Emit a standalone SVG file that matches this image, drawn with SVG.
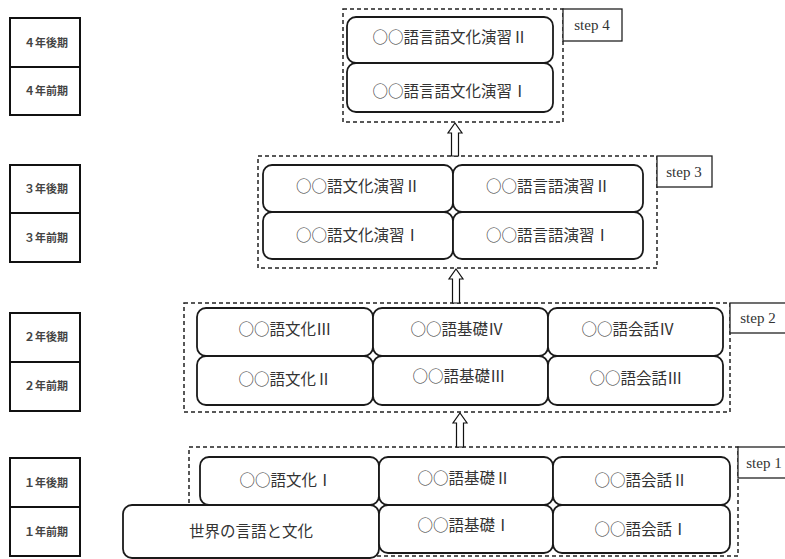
<svg xmlns="http://www.w3.org/2000/svg" width="785" height="559" viewBox="0 0 785 559">
<style>
.yr{fill:#fff;stroke:#111;stroke-width:2}
.yt{font-family:"Noto Sans CJK JP","Noto Sans",sans-serif;font-size:11px;font-weight:bold;fill:#444;text-anchor:middle}
.dash{fill:none;stroke:#222;stroke-width:1.5;stroke-dasharray:4 3}
.lbl{fill:#fff;stroke:#222;stroke-width:1.3}
.lt{font-family:"Liberation Serif",serif;font-size:15px;fill:#333;text-anchor:middle}
.nd{fill:#fff;stroke:#1a1a1a;stroke-width:1.8}
.nt{font-family:"Noto Sans CJK JP","Noto Sans",sans-serif;font-size:15.5px;fill:#333;text-anchor:middle}
.ar{fill:#fff;stroke:#111;stroke-width:1.2;stroke-linejoin:miter}
</style>

<g id="years">
  <g id="year4">
    <rect class="yr" x="10" y="18" width="70" height="97"/>
    <line x1="10" y1="67" x2="80" y2="67" stroke="#111" stroke-width="2"/>
    <text class="yt" x="46" y="47">４年後期</text>
    <text class="yt" x="46" y="95">４年前期</text>
  </g>
  <g id="year3">
    <rect class="yr" x="10" y="165" width="70" height="97"/>
    <line x1="10" y1="213" x2="80" y2="213" stroke="#111" stroke-width="2"/>
    <text class="yt" x="46" y="193">３年後期</text>
    <text class="yt" x="46" y="242">３年前期</text>
  </g>
  <g id="year2">
    <rect class="yr" x="10" y="313" width="70" height="98"/>
    <line x1="10" y1="362" x2="80" y2="362" stroke="#111" stroke-width="2"/>
    <text class="yt" x="46" y="341">２年後期</text>
    <text class="yt" x="46" y="390">２年前期</text>
  </g>
  <g id="year1">
    <rect class="yr" x="10" y="458" width="70" height="98"/>
    <line x1="10" y1="507" x2="80" y2="507" stroke="#111" stroke-width="2"/>
    <text class="yt" x="46" y="487">１年後期</text>
    <text class="yt" x="46" y="536">１年前期</text>
  </g>
</g>

<g id="step4">
  <rect class="dash" x="343" y="9" width="220" height="113"/>
  <rect class="lbl" x="563" y="9" width="59" height="32"/>
  <text class="lt" x="592" y="30">step 4</text>
  <g id="s4-2"><rect class="nd" x="347" y="17" width="206" height="46" rx="9"/><text class="nt" x="450" y="43">○○語言語文化演習Ⅱ</text></g>
  <g id="s4-1"><rect class="nd" x="347" y="63" width="206" height="49" rx="9"/><text class="nt" x="450" y="97">○○語言語文化演習Ⅰ</text></g>
</g>

<g id="step3">
  <rect class="dash" x="258" y="156" width="399" height="112"/>
  <rect class="lbl" x="657" y="156" width="55" height="31"/>
  <text class="lt" x="684" y="177">step 3</text>
  <g id="s3-c2"><rect class="nd" x="263" y="165" width="190" height="47" rx="9"/><text class="nt" x="358" y="192">○○語文化演習Ⅱ</text></g>
  <g id="s3-l2"><rect class="nd" x="453" y="165" width="190" height="47" rx="9"/><text class="nt" x="548" y="192">○○語言語演習Ⅱ</text></g>
  <g id="s3-c1"><rect class="nd" x="263" y="212" width="190" height="47" rx="9"/><text class="nt" x="358" y="240.5">○○語文化演習Ⅰ</text></g>
  <g id="s3-l1"><rect class="nd" x="453" y="212" width="190" height="47" rx="9"/><text class="nt" x="548" y="240.5">○○語言語演習Ⅰ</text></g>
</g>

<g id="step2">
  <rect class="dash" x="184" y="303" width="546" height="109"/>
  <rect class="lbl" x="730" y="303" width="58" height="30"/>
  <text class="lt" x="758" y="323">step 2</text>
  <g id="s2-c3"><rect class="nd" x="197" y="308" width="176" height="48" rx="9"/><text class="nt" x="285" y="335">○○語文化Ⅲ</text></g>
  <g id="s2-b4"><rect class="nd" x="373" y="308" width="175" height="48" rx="9"/><text class="nt" x="457" y="335">○○語基礎Ⅳ</text></g>
  <g id="s2-k4"><rect class="nd" x="548" y="308" width="175" height="48" rx="9"/><text class="nt" x="628" y="335">○○語会話Ⅳ</text></g>
  <g id="s2-c2"><rect class="nd" x="197" y="356" width="176" height="49" rx="9"/><text class="nt" x="285" y="385">○○語文化Ⅱ</text></g>
  <g id="s2-b3"><rect class="nd" x="373" y="356" width="175" height="49" rx="9"/><text class="nt" x="459" y="382">○○語基礎Ⅲ</text></g>
  <g id="s2-k3"><rect class="nd" x="548" y="356" width="175" height="49" rx="9"/><text class="nt" x="636" y="384">○○語会話Ⅲ</text></g>
</g>

<g id="step1">
  <rect class="dash" x="189" y="447" width="549" height="109"/>
  <rect class="lbl" x="738" y="447" width="50" height="31"/>
  <text class="lt" x="764" y="468">step 1</text>
  <g id="s1-c1"><rect class="nd" x="200" y="457" width="179" height="48" rx="9"/><text class="nt" x="286" y="486">○○語文化Ⅰ</text></g>
  <g id="s1-b2"><rect class="nd" x="379" y="457" width="174" height="48" rx="9"/><text class="nt" x="464" y="484">○○語基礎Ⅱ</text></g>
  <g id="s1-k2"><rect class="nd" x="553" y="457" width="177" height="48" rx="9"/><text class="nt" x="641" y="486">○○語会話Ⅱ</text></g>
  <g id="s1-world"><rect class="nd" x="123" y="505" width="256" height="53" rx="9"/><text class="nt" x="251" y="537">世界の言語と文化</text></g>
  <g id="s1-b1"><rect class="nd" x="379" y="505" width="174" height="48" rx="9"/><text class="nt" x="464" y="531">○○語基礎Ⅰ</text></g>
  <g id="s1-k1"><rect class="nd" x="553" y="505" width="177" height="48" rx="9"/><text class="nt" x="641" y="535">○○語会話Ⅰ</text></g>
</g>

<g id="connectors">
  <polygon class="ar" points="455,123 462,133 458.5,133 458.5,156 451.5,156 451.5,133 448,133"/>
  <polygon class="ar" points="456,269 463,279 459.5,279 459.5,303 452.5,303 452.5,279 449,279"/>
  <polygon class="ar" points="460,413 467,423 463.5,423 463.5,447 456.5,447 456.5,423 453,423"/>
</g>
</svg>
